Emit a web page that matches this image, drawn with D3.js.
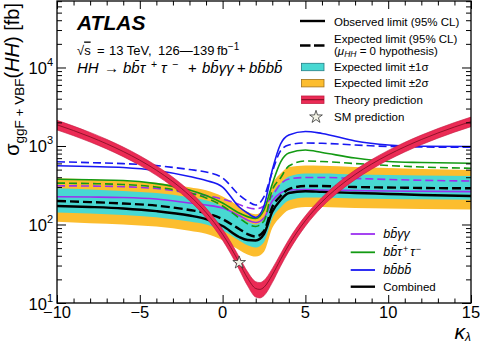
<!DOCTYPE html>
<html>
<head>
<meta charset="utf-8">
<script src="https://cdn.jsdelivr.net/npm/d3@7"></script>
<style>
  body { margin: 0; background: #fff; }
  svg { font-family: "Liberation Sans", Arial, sans-serif; }
</style>
</head>
<body>
<svg id="chart" width="480" height="346"></svg>
<script>
// kappa_lambda points of the limit scan
const kappa = [-10, -8, -6, -4, -2, -1, 0, 1, 1.5, 2, 2.5, 3, 3.5, 4, 5, 6, 8, 10, 12, 15];

// combined limits [fb]
const combObs = [172, 167, 160, 148, 130, 117, 95.7, 69.3, 63.5, 62.6, 75.7, 145, 205, 252, 265, 260, 252, 245, 238, 231];
const combExp = [199, 193, 185, 174, 153, 140, 117, 87.6, 75.6, 70.3, 82.6, 167, 231, 283, 309, 309, 300, 296, 292, 289];
const combUp1 = [289, 280, 268, 252, 222, 203, 170, 127, 108, 100, 118, 242, 333, 408, 445, 445, 432, 426, 420, 416];
const combDn1 = [142, 138, 132, 124, 109, 100, 84, 62.6, 54.5, 51, 59.5, 119, 165, 202, 221, 221, 214, 211, 209, 207];
const combUp2 = [388, 376, 361, 339, 298, 273, 228, 171, 145, 135, 159, 326, 445, 540, 565, 560, 540, 525, 510, 495];
const combDn2 = [108, 104, 100, 94, 83, 76, 63, 47.4, 41.5, 39, 45, 90, 125, 153, 167, 167, 162, 160, 158, 155];

// single channels
const bbbbObs = [561, 548, 532, 487, 409, 364, 300, 167, 140, 123, 172, 494, 1061, 1383, 1533, 1445, 1159, 1030, 991, 985];
const bbbbExp = [630, 614, 596, 562, 501, 466, 392, 238, 199, 177, 226, 466, 871, 1030, 1093, 1083, 1030, 986, 971, 963];
const bbttObs = [377, 371, 364, 332, 275, 234, 188, 140, 126, 119, 153, 328, 625, 814, 889, 826, 702, 634, 616, 602];
const bbttExp = [337, 332, 323, 300, 252, 218, 172, 121, 102, 94.4, 111, 275, 392, 556, 644, 634, 598, 564, 540, 521];
const bbyyObs = [226, 224, 221, 211, 188, 177, 162, 130, 114, 106, 121, 199, 252, 275, 279, 275, 271, 267, 265, 262];
const bbyyExp = [311, 309, 303, 287, 252, 234, 211, 180, 164.5, 158, 172, 231, 328, 380, 397, 397, 386, 375, 366, 358];

// theory prediction (ggF + VBF)
const kappaTh = [-10, -9, -8, -7, -6, -5, -4, -3, -2, -1, 0, 0.5, 1, 1.5, 2, 2.25, 2.5, 3, 3.5, 4, 5, 6, 7, 8, 9, 10, 11, 12, 13, 14, 15];
const theory = [1863, 1573, 1307, 1066, 850, 659, 492, 351, 234, 142, 75.0, 50.7, 32.7, 20.9, 15.3, 14.9, 15.9, 22.8, 35.8, 55.1, 112, 194, 301, 433, 589, 770, 976, 1207, 1463, 1744, 2049];
const theoryLo = [1602, 1353, 1124, 917, 731, 567, 423, 302, 201, 122, 63, 42.1, 26.8, 16.7, 11.9, 11.6, 12.4, 18.2, 29.4, 45.7, 95.2, 167, 259, 372, 507, 662, 839, 1038, 1258, 1500, 1762];
const theoryHi = [2124, 1793, 1490, 1215, 969, 751, 561, 400, 267, 162, 87, 59.3, 38.6, 25.1, 18.7, 18.2, 19.4, 27.4, 42.2, 64.5, 129, 221, 343, 494, 671, 878, 1113, 1376, 1668, 1988, 2336];

const smKappa = [1];
const smXsec = [32.7];

const xTicks = [-10, -5, 0, 5, 10, 15];
const yDecades = [1, 2, 3, 4];

const svg = d3.select('#chart');
const pLeft = 57, pRight = 471, pTop = 1, pBottom = 303;

const x = d3.scaleLinear().domain([-10, 15]).range([pLeft, pRight]);
const y = d3.scaleLog().domain([10, 7.03e4]).range([pBottom, pTop]);

svg.append('defs').append('clipPath').attr('id', 'clip')
    .append('rect')
    .attr('x', pLeft).attr('y', pTop)
    .attr('width', pRight - pLeft).attr('height', pBottom - pTop);

const plot = svg.append('g').attr('clip-path', 'url(#clip)');

function band(xs, lo, hi) {
    return d3.area()
        .x((d, i) => x(xs[i]))
        .y0((d, i) => y(lo[i]))
        .y1((d, i) => y(hi[i]))
        .curve(d3.curveMonotoneX)(xs);
}

function line(xs, vals) {
    return d3.line()
        .x((d, i) => x(xs[i]))
        .y((d, i) => y(vals[i]))
        .curve(d3.curveMonotoneX)(xs);
}

const cyan = '#48d8d2', yellow = '#fcbd2e', red = '#eb2b55';
const purple = '#9b2ff0', green = '#139a13', blue = '#1818f2';

// expected bands
plot.append('path').attr('d', band(kappa, combDn2, combUp2)).attr('fill', yellow);
plot.append('path').attr('d', band(kappa, combDn1, combUp1)).attr('fill', cyan);

// channel curves, then combined
const curves = [
    { vals: bbyyExp, color: purple, dash: '8,4', w: 1.6 },
    { vals: bbyyObs, color: purple, dash: null, w: 1.6 },
    { vals: bbttExp, color: green, dash: '8,4', w: 1.6 },
    { vals: bbttObs, color: green, dash: null, w: 1.6 },
    { vals: bbbbExp, color: blue, dash: '8,4', w: 1.6 },
    { vals: bbbbObs, color: blue, dash: null, w: 1.6 },
    { vals: combExp, color: '#000', dash: '9,4', w: 2.4 },
    { vals: combObs, color: '#000', dash: null, w: 2.4 },
];
curves.forEach(c => {
    plot.append('path')
        .attr('d', line(kappa, c.vals))
        .attr('fill', 'none')
        .attr('stroke', c.color)
        .attr('stroke-width', c.w)
        .attr('stroke-dasharray', c.dash);
});

// theory band
plot.append('path').attr('d', band(kappaTh, theoryLo, theoryHi))
    .attr('fill', red).attr('stroke', '#c41d42').attr('stroke-width', 0.6);
plot.append('path').attr('d', line(kappaTh, theory))
    .attr('fill', 'none').attr('stroke', '#7a0c1f').attr('stroke-width', 0.8);

// SM point
const star = d3.symbol().type(d3.symbolStar).size(50);
svg.selectAll('.sm').data(smKappa).enter().append('path')
    .attr('transform', (d, i) => `translate(${x(d)},${y(smXsec[i])})`)
    .attr('d', star)
    .attr('fill', '#f3f3e6').attr('stroke', '#333').attr('stroke-width', 0.8);

// axes with inward ticks
const minorX = d3.range(-10, 16, 1).filter(v => !xTicks.includes(v));
const minorY = [];
[1, 10, 100, 1000, 10000].forEach(d => {
    for (let m = 2; m <= 9; m++) if (d * m >= 10 && d * m <= 7e4) minorY.push(d * m);
});
const majorY = yDecades.map(k => Math.pow(10, k));

function ticks(axis, pos, vals, size) {
    svg.append('g')
        .attr('transform', pos)
        .call(axis.tickValues(vals).tickSize(size).tickFormat(''))
        .call(g => g.select('.domain').remove())
        .call(g => g.selectAll('line').attr('stroke-width', 1));
}
ticks(d3.axisBottom(x), `translate(0,${pBottom})`, minorX, -4.5);
ticks(d3.axisTop(x), `translate(0,${pTop})`, minorX, -4.5);
ticks(d3.axisBottom(x), `translate(0,${pBottom})`, xTicks, -8);
ticks(d3.axisTop(x), `translate(0,${pTop})`, xTicks, -8);
ticks(d3.axisLeft(y), `translate(${pLeft},0)`, minorY, -5);
ticks(d3.axisRight(y), `translate(${pRight},0)`, minorY, -5);
ticks(d3.axisLeft(y), `translate(${pLeft},0)`, majorY, -9);
ticks(d3.axisRight(y), `translate(${pRight},0)`, majorY, -9);

svg.append('rect')
    .attr('x', pLeft).attr('y', pTop)
    .attr('width', pRight - pLeft).attr('height', pBottom - pTop)
    .attr('fill', 'none').attr('stroke', '#000').attr('stroke-width', 1.3);

// tick labels
svg.selectAll('.xl').data(xTicks).enter().append('text')
    .attr('x', d => x(d)).attr('y', pBottom + 15)
    .attr('text-anchor', 'middle').attr('font-size', 16.5)
    .text(d => d3.format('d')(d));

yDecades.forEach(k => {
    const t = svg.append('text')
        .attr('x', 53).attr('y', y(Math.pow(10, k)) + 6.5)
        .attr('text-anchor', 'end').attr('font-size', 16.5);
    t.append('tspan').text('10');
    t.append('tspan').attr('dy', -8).attr('font-size', 11).text(k);
});

// axis titles
const yt = svg.append('text')
    .attr('transform', 'translate(19,3) rotate(-90)')
    .attr('text-anchor', 'end').attr('font-size', 20);
yt.append('tspan').text('σ');
yt.append('tspan').attr('font-size', 13.5).attr('dy', 5).text('ggF + VBF');
yt.append('tspan').attr('dy', -5).text('(');
yt.append('tspan').attr('font-style', 'italic').text('HH');
yt.append('tspan').text(') [fb]');

const xt = svg.append('text')
    .attr('x', 471).attr('y', 339)
    .attr('text-anchor', 'end').attr('font-style', 'italic');
xt.append('tspan').attr('font-size', 21).text('κ');
xt.append('tspan').attr('font-size', 12).attr('dy', 2).text('λ');

// ATLAS label
svg.append('text').attr('x', 77).attr('y', 30)
    .attr('font-size', 21).attr('font-weight', 'bold').attr('font-style', 'italic')
    .text('ATLAS');

// energy / luminosity line, pieces placed like the TLatex spacing
const l1 = svg.append('text').attr('y', 54.5).attr('font-size', 13);
l1.append('tspan').attr('x', 77).text('√');
l1.append('tspan').attr('text-decoration', 'overline').text('s');
l1.append('tspan').attr('x', 97).text('=');
l1.append('tspan').attr('x', 109).text('13 TeV,');
l1.append('tspan').attr('x', 158).text('126—139');
l1.append('tspan').attr('x', 217).text('fb');
l1.append('tspan').attr('dy', -5).attr('font-size', 10).text('−1');

const l2 = svg.append('text').attr('y', 72.5).attr('font-size', 15);
l2.append('tspan').attr('x', 77).attr('font-style', 'italic').text('HH');
l2.append('tspan').attr('x', 104).text('→');
l2.append('tspan').attr('x', 123).attr('font-style', 'italic').text('bb\u0304τ');
l2.append('tspan').attr('x', 151).attr('dy', -5).attr('font-size', 10.5).text('+');
l2.append('tspan').attr('x', 161).attr('dy', 5).attr('font-style', 'italic').text('τ');
l2.append('tspan').attr('x', 172).attr('dy', -5).attr('font-size', 10.5).text('−');
l2.append('tspan').attr('x', 188).attr('dy', 5).text('+');
l2.append('tspan').attr('x', 202).attr('font-style', 'italic').text('bb\u0304γγ');
l2.append('tspan').attr('x', 237).text('+');
l2.append('tspan').attr('x', 249).attr('font-style', 'italic').text('bb\u0304bb\u0304');

// legend, top right
const lg = svg.append('g').attr('font-size', 11.5);
lg.append('line').attr('x1', 300).attr('x2', 325).attr('y1', 21).attr('y2', 21)
    .attr('stroke', '#000').attr('stroke-width', 2.4);
lg.append('text').attr('x', 334).attr('y', 26).text('Observed limit (95% CL)');

lg.append('line').attr('x1', 300).attr('x2', 325).attr('y1', 45.5).attr('y2', 45.5)
    .attr('stroke', '#000').attr('stroke-width', 2.4).attr('stroke-dasharray', '10.5,3.5');
lg.append('text').attr('x', 334).attr('y', 43).text('Expected limit (95% CL)');
const mu = lg.append('text').attr('x', 334).attr('y', 55);
mu.append('tspan').text('(');
mu.append('tspan').attr('font-style', 'italic').text('μ');
mu.append('tspan').attr('font-style', 'italic').attr('font-size', 8.5).attr('dy', 2).text('HH');
mu.append('tspan').attr('dy', -2).text(' = 0 hypothesis)');

lg.append('rect').attr('x', 301.5).attr('y', 63.3).attr('width', 22.5).attr('height', 7.4)
    .attr('fill', cyan).attr('stroke', '#237f86').attr('stroke-width', 0.8);
lg.append('text').attr('x', 334).attr('y', 70.5).text('Expected limit ±1σ');

lg.append('rect').attr('x', 301.5).attr('y', 79.5).attr('width', 22.5).attr('height', 7.4)
    .attr('fill', yellow).attr('stroke', '#a0701a').attr('stroke-width', 0.8);
lg.append('text').attr('x', 334).attr('y', 87).text('Expected limit ±2σ');

lg.append('rect').attr('x', 301.5).attr('y', 96).attr('width', 22.5).attr('height', 7.4)
    .attr('fill', red).attr('stroke', '#c41d42').attr('stroke-width', 0.8);
lg.append('line').attr('x1', 301.5).attr('x2', 324).attr('y1', 99.7).attr('y2', 99.7)
    .attr('stroke', '#7a0c1f').attr('stroke-width', 1);
lg.append('text').attr('x', 334).attr('y', 103.5).text('Theory prediction');

lg.append('path').attr('transform', 'translate(316,117)').attr('d', star)
    .attr('fill', '#f3f3e6').attr('stroke', '#333').attr('stroke-width', 0.8);
lg.append('text').attr('x', 334).attr('y', 120.5).text('SM prediction');

// legend, channels
const chLegend = [
    { label: 'bb\u0304γγ', color: purple, yy: 234 },
    { label: 'bb\u0304τ', sup: true, color: green, yy: 252.3 },
    { label: 'bb\u0304bb\u0304', color: blue, yy: 270 },
    { label: 'Combined', color: '#000', yy: 286.7, upright: true },
];
const cg = svg.append('g').attr('font-size', 12.5);
chLegend.forEach(c => {
    cg.append('line').attr('x1', 350.7).attr('x2', 375).attr('y1', c.yy).attr('y2', c.yy)
        .attr('stroke', c.color).attr('stroke-width', c.upright ? 2.4 : 1.8);
    const t = cg.append('text').attr('x', 383.3).attr('y', c.yy + 4)
        .attr('font-style', c.upright ? 'normal' : 'italic')
        .attr('font-size', c.upright ? 11.5 : 12.5);
    t.append('tspan').text(c.label);
    if (c.sup) {
        t.append('tspan').attr('dx', 1).attr('dy', -4.5).attr('font-size', 9).attr('font-style', 'normal').text('+');
        t.append('tspan').attr('dx', 2).attr('dy', 4.5).text('τ');
        t.append('tspan').attr('dx', 1).attr('dy', -4.5).attr('font-size', 9).attr('font-style', 'normal').text('−');
    }
});
</script>
</body>
</html>
